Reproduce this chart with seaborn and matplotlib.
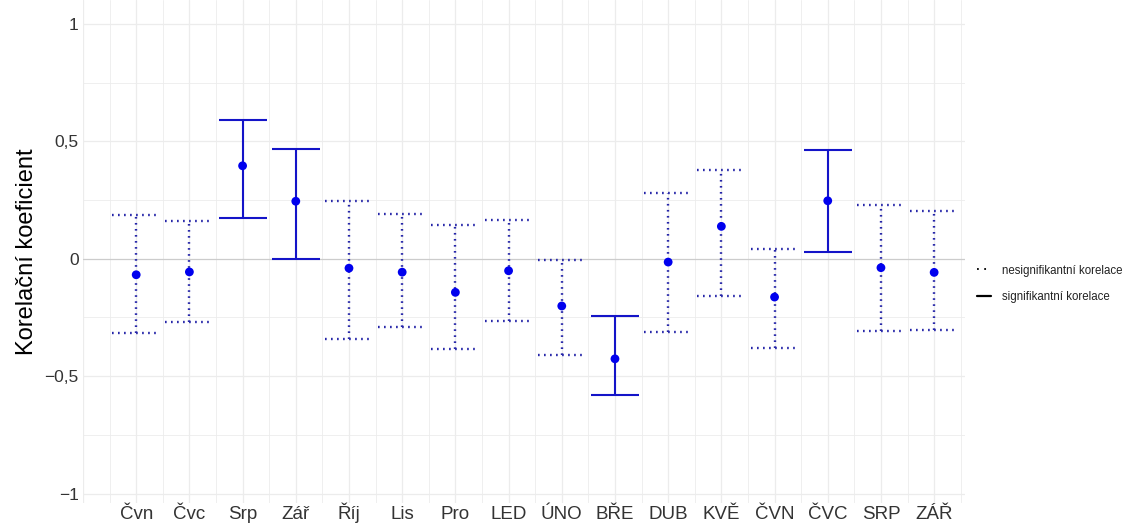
import numpy as np
import pandas as pd
import matplotlib
matplotlib.use("Agg")
import matplotlib.pyplot as plt
from matplotlib.lines import Line2D
from matplotlib.ticker import FixedLocator, FuncFormatter
import seaborn as sns

# Monthly correlation coefficients with confidence limits
months = ["Čvn", "Čvc", "Srp", "Zář", "Říj", "Lis", "Pro", "LED",
          "ÚNO", "BŘE", "DUB", "KVĚ", "ČVN", "ČVC", "SRP", "ZÁŘ"]
coef = [-0.068, -0.056, 0.396, 0.245, -0.040, -0.057, -0.143, -0.051,
        -0.201, -0.426, -0.014, 0.138, -0.163, 0.247, -0.038, -0.058]
lower = [-0.315, -0.270, 0.173, 0.000, -0.340, -0.292, -0.383, -0.264,
         -0.411, -0.579, -0.311, -0.160, -0.382, 0.031, -0.307, -0.304]
upper = [0.187, 0.159, 0.590, 0.466, 0.247, 0.191, 0.142, 0.165,
         -0.006, -0.245, 0.281, 0.379, 0.041, 0.464, 0.229, 0.203]
significant = [False, False, True, True, False, False, False, False,
               False, True, False, False, False, True, False, False]

df = pd.DataFrame({"month": months, "coef": coef, "lower": lower,
                   "upper": upper, "sig": significant})
df["pos"] = np.arange(1, len(df) + 1)

sns.set_theme(style="white")
plt.rcParams["font.family"] = ["Liberation Sans", "DejaVu Sans"]

fig = plt.figure(figsize=(11.4, 5.23), dpi=100)
ax = fig.add_axes([83 / 1140, 20 / 523, (965 - 83) / 1140, 503 / 523])

grid_c = "#ececec"
# grid lines
for y in [-1, -0.5, 0.5, 1]:
    ax.axhline(y, color=grid_c, lw=0.9, zorder=0)
for y in [-0.75, -0.25, 0.25, 0.75]:
    ax.axhline(y, color=grid_c, lw=0.6, zorder=0)
for x in np.arange(0, 17, 1.0):
    ax.axvline(x, color=grid_c, lw=0.9, zorder=0)
for x in np.arange(0.5, 17, 1.0):
    ax.axvline(x, color=grid_c, lw=0.6, zorder=0)
ax.axhline(0, color="#cccccc", lw=0.9, zorder=1)

line_c = "#1414c8"
dot_c = "#2424a8"
half = 0.45
for _, r in df.iterrows():
    if r["sig"]:
        kw = dict(color=line_c, lw=1.5, linestyle="-")
    else:
        kw = dict(color=dot_c, lw=1.7, linestyle=(0, (0.7, 1.85)))
    ax.vlines(r["pos"], r["lower"], r["upper"], zorder=2, **kw)
    ax.hlines([r["lower"], r["upper"]], r["pos"] - half, r["pos"] + half,
              zorder=2, **kw)

sns.scatterplot(data=df, x="pos", y="coef", color="#0000ee", s=40,
                edgecolor="none", zorder=3, ax=ax, legend=False)

ax.set_xlim(0, 16.58)
ax.set_ylim(-1.04, 1.102)
ax.xaxis.set_major_locator(FixedLocator(df["pos"].tolist()))
ax.set_xticklabels(months, va="baseline")
ax.yaxis.set_major_locator(FixedLocator([-1, -0.5, 0, 0.5, 1]))
ax.yaxis.set_major_formatter(FuncFormatter(
    lambda v, p: ("%g" % v).replace(".", ",").replace("-", "\u2212")))
ax.tick_params(axis="both", length=0, colors="#333333")
ax.tick_params(axis="x", labelsize=13.5, pad=11.5)
ax.tick_params(axis="y", labelsize=12.5, pad=3)
ax.set_xlabel("")
ax.set_ylabel("Korelační koeficient", fontsize=17, color="black", labelpad=5)
for s in ax.spines.values():
    s.set_visible(False)

handles = [Line2D([], [], color="black", lw=1.3, linestyle=(0, (1, 3))),
           Line2D([], [], color="black", lw=1.6, linestyle="-")]
fig.legend(handles, ["nesignifikantní korelace", "signifikantní korelace"],
           loc="center left", bbox_to_anchor=(967 / 1140, 1 - 284 / 523),
           frameon=False, fontsize=8.3, handlelength=1.2, handletextpad=0.9,
           labelspacing=1.3, labelcolor="#222222")

fig.savefig("out.png", dpi=100, facecolor="white")
